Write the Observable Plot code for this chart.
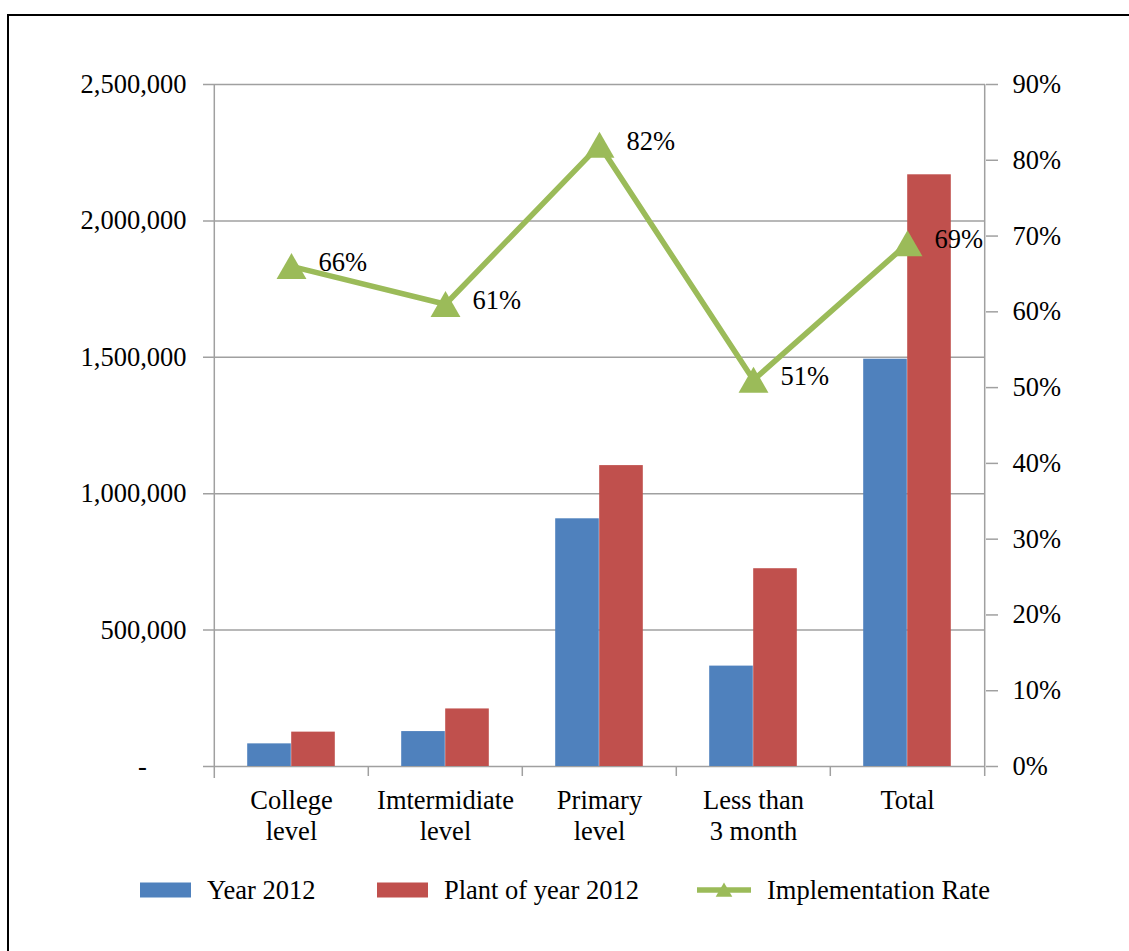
<!DOCTYPE html>
<html>
<head>
<meta charset="utf-8">
<script src="https://cdn.jsdelivr.net/npm/d3@7"></script>
<script src="https://cdn.jsdelivr.net/npm/@observablehq/plot@0.6"></script>
<style>
  html, body { margin: 0; padding: 0; background: #fff; overflow: hidden; }
  #wrap { position: relative; width: 1129px; height: 951px; font-family: "Liberation Serif", "Times New Roman", serif; }
  #border { position: absolute; left: 7px; top: 14px; width: 1200px; height: 1000px; border: 2px solid #000; box-sizing: border-box; }
  #chart { position: absolute; left: 0; top: 0; }
  #chart svg text { font-family: "Liberation Serif", "Times New Roman", serif; }
  #legend { position: absolute; left: 0; top: 872px; width: 1129px; height: 40px; font-size: 26.5px; color: #000; }
  .item { position: absolute; top: 0; display: flex; align-items: center; height: 36px; white-space: nowrap; }
</style>
</head>
<body>
<div id="wrap">
  <div id="border"></div>
  <div id="chart"></div>
  <div id="legend"></div>
</div>
<script>
// ---- data ----
const categories = ["College\nlevel", "Imtermidiate\nlevel", "Primary\nlevel", "Less than\n3 month", "Total"];
const year2012 = [83000, 128000, 908000, 368000, 1493000];
const plan2012 = [126000, 211000, 1103000, 725000, 2169000];
const rate = [66, 61, 82, 51, 69];
const leftTicks = [0, 500000, 1000000, 1500000, 2000000, 2500000];
const rightTicks = [0, 10, 20, 30, 40, 50, 60, 70, 80, 90];
const seriesNames = ["Year 2012", "Plant of year 2012", "Implementation Rate"];
const seriesColors = ["#4F81BD", "#C0504D", "#9BBB59"];

// ---- layout / style ----
const W = 1129, H = 860, mL = 213, mR = 144, mT = 84, mB = 94;
const plotH = H - mT - mB;
const bw = (W - mL - mR) / categories.length;
const barW = 44;
const gray = "#a0a0a0";
const font = "'Liberation Serif', 'Times New Roman', serif";
const fs = 26.5;
const leftMax = 2500000, rightMax = 90;
const factor = leftMax / rightMax;

const data = categories.map((c, i) => ({category: c, year: year2012[i], plan: plan2012[i], rate: rate[i]}));
const fmt = d3.format(",");

const chart = Plot.plot({
  width: W, height: H,
  marginLeft: mL, marginRight: mR, marginTop: mT, marginBottom: mB,
  style: {fontFamily: font, fontSize: fs + "px", color: "#000", background: "transparent", overflow: "visible"},
  x: {type: "band", domain: categories, padding: 0, label: null},
  y: {domain: [0, leftMax], label: null},
  marks: [
    Plot.ruleY(leftTicks, {stroke: gray, strokeWidth: 1.5, insetLeft: -10}),
    Plot.barY(data, {x: "category", y: "year", fill: seriesColors[0], insetLeft: (bw - barW) / 2, insetRight: (bw - barW) / 2, dx: -barW / 2}),
    Plot.barY(data, {x: "category", y: "plan", fill: seriesColors[1], insetLeft: (bw - barW) / 2, insetRight: (bw - barW) / 2, dx: barW / 2}),
    Plot.ruleX([categories[0]], {x: d => d, dx: -bw / 2, stroke: gray, strokeWidth: 1.5, insetBottom: -12}),
    Plot.ruleX([categories[categories.length - 1]], {x: d => d, dx: bw / 2, stroke: gray, strokeWidth: 1.5, insetBottom: -10}),
    Plot.ruleX(categories.slice(1), {x: d => d, dx: -bw / 2, stroke: gray, strokeWidth: 1.5, insetTop: plotH, insetBottom: -10}),
    Plot.axisY(leftTicks, {anchor: "left", tickSize: 0, tickPadding: 27, fontSize: fs, fontFamily: font, fill: "#000", label: null,
      tickFormat: d => d === 0 ? "-\u00a0\u00a0\u00a0\u00a0\u00a0\u00a0" : fmt(d)}),
    Plot.axisY(rightTicks.map(p => p * factor), {anchor: "right", tickSize: 12, tickPadding: 15, stroke: gray, strokeWidth: 1.5, fill: "#000", fontSize: fs, fontFamily: font, label: null,
      tickFormat: v => Math.round(v / factor) + "%"}),
    Plot.axisX({anchor: "bottom", tickSize: 0, tickPadding: 20, fontSize: fs, fontFamily: font, lineHeight: 1.17, fill: "#000", label: null}),
    Plot.line(data, {x: "category", y: d => d.rate * factor, stroke: seriesColors[2], strokeWidth: 5.5}),
    Plot.dot(data, {x: "category", y: d => d.rate * factor, symbol: "triangle", r: 11.1, fill: seriesColors[2], dy: 4}),
    Plot.text(data, {x: "category", y: d => d.rate * factor, text: d => d.rate + "%", dx: 27, dy: -4, textAnchor: "start", fontSize: fs, fontFamily: font, fill: "#000"})
  ]
});
document.getElementById("chart").appendChild(chart);

// ---- legend ----
const legend = d3.select("#legend");
const itemLeft = [140, 377, 697];
seriesNames.forEach((name, i) => {
  const item = legend.append("div").attr("class", "item").style("left", itemLeft[i] + "px");
  const svg = item.append("svg").attr("width", i === 2 ? 54 : 52).attr("height", 20).style("margin-right", i === 2 ? "16px" : "15px");
  if (i < 2) {
    svg.append("rect").attr("x", 0).attr("y", 2.5).attr("width", 51).attr("height", 15).attr("fill", seriesColors[i]);
  } else {
    svg.append("line").attr("x1", 1).attr("x2", 53).attr("y1", 10).attr("y2", 10)
      .attr("stroke", seriesColors[2]).attr("stroke-width", 5.5).attr("stroke-linecap", "round");
    svg.append("path").attr("d", d3.symbol(d3.symbolTriangle, 120)()).attr("transform", "translate(27,12)").attr("fill", seriesColors[2]);
  }
  item.append("span").text(name);
});
</script>
</body>
</html>
